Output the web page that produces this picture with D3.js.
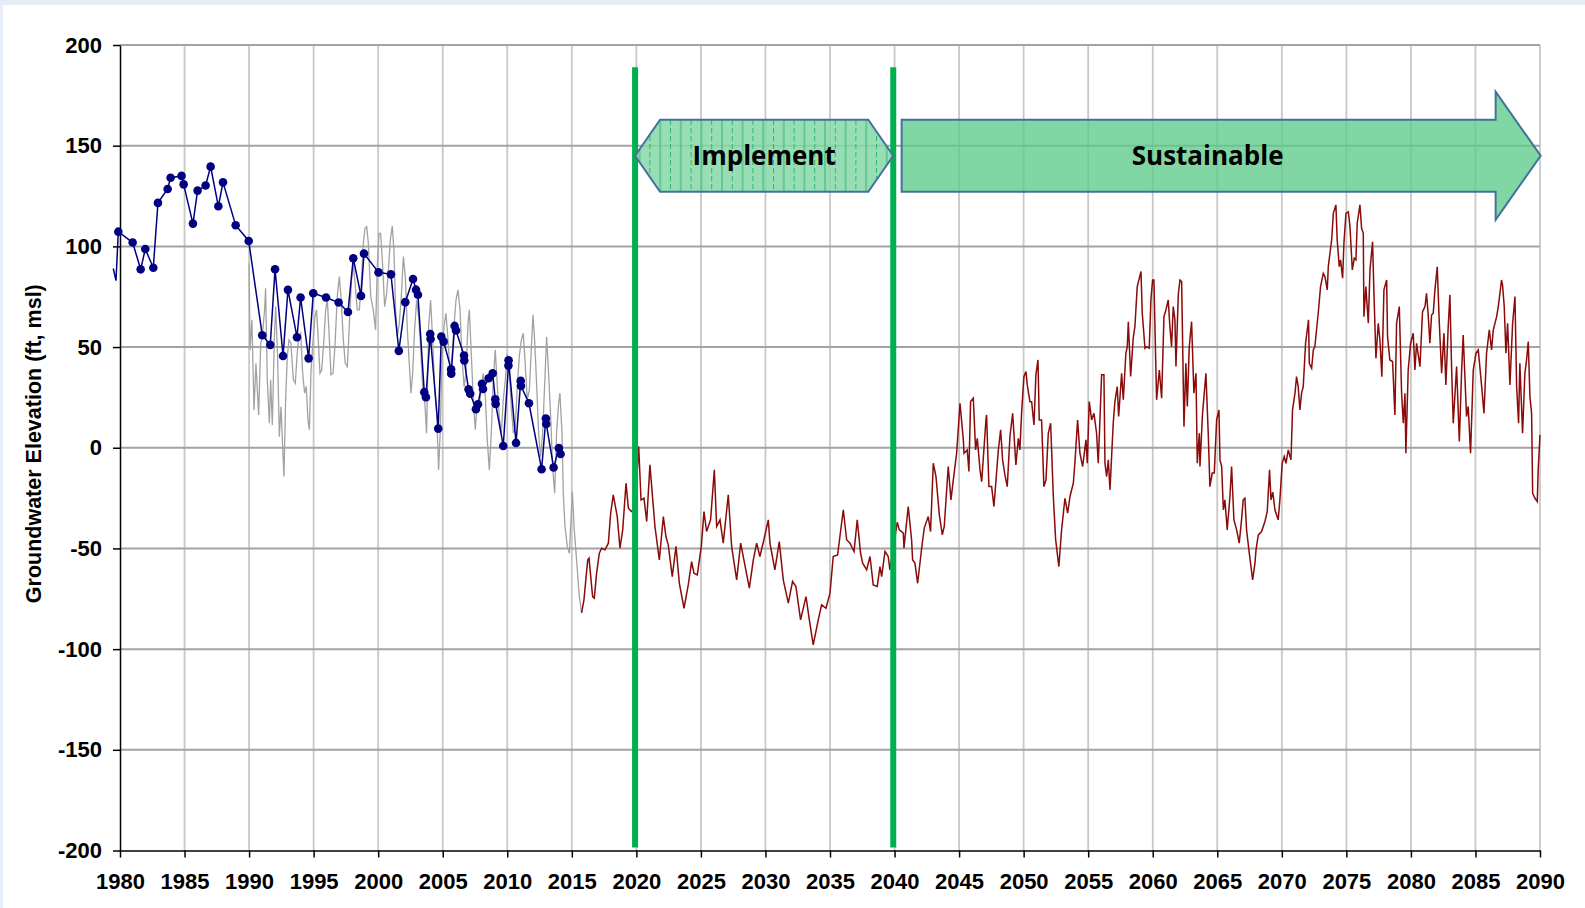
<!DOCTYPE html>
<html lang="en">
<head>
<meta charset="UTF-8">
<title>Groundwater Elevation</title>
<script src="https://d3js.org/d3.v7.min.js"></script>
<style>
    body { margin: 0; background: #e6edf7; }
    svg { display: block; }
    .axis text { font-family: "Liberation Sans", Arial, sans-serif; font-weight: bold; font-size: 22px; fill: #000; }
    .axis line, .axis path { stroke: #000; stroke-width: 1.5; }
</style>
</head>
<body>
<div id="chart"></div>
<script>
    //Data
    const xTickYears = [1980, 1985, 1990, 1995, 2000, 2005, 2010, 2015, 2020, 2025, 2030, 2035, 2040, 2045, 2050, 2055, 2060, 2065, 2070, 2075, 2080, 2085, 2090];
    const yTickValues = [200, 150, 100, 50, 0, -50, -100, -150, -200];
    const yLabel = 'Groundwater Elevation (ft, msl)';

    // measured well levels (line starts a bit before the first marker)
    const measuredLeadIn = [[1979.48, 89], [1979.69, 83]];
    const measured = [[1979.87, 107.3], [1980.98, 101.9], [1981.6, 88.6], [1981.96, 98.7], [1982.58, 89.4], [1982.94, 121.6], [1983.69, 128.5], [1983.92, 134.1], [1984.77, 135], [1984.93, 130.8], [1985.65, 111.3], [1986.01, 127.7], [1986.63, 130.2], [1987.02, 139.6], [1987.62, 119.9], [1987.98, 131.8], [1988.96, 110.5], [1989.97, 102.7], [1991.02, 55.9], [1991.64, 51.1], [1992.01, 88.6], [1992.63, 45.6], [1993.01, 78.4], [1993.71, 54.9], [1993.99, 74.6], [1994.61, 44.4], [1994.97, 76.7], [1995.96, 74.6], [1996.94, 72.1], [1997.66, 67.4], [1998.07, 94.1], [1998.67, 75.4], [1998.9, 96.4], [2000.03, 87.1], [2000.99, 86.1], [2001.6, 48.1], [2002.1, 72.3], [2002.7, 83.8], [2002.93, 78.5], [2003.08, 76], [2003.57, 27.6], [2003.7, 25.1], [2004.03, 56.5], [2004.06, 54], [2004.65, 9.5], [2004.89, 55.2], [2005.07, 52.7], [2005.65, 39], [2005.66, 36.8], [2005.92, 60.5], [2006.03, 58.2], [2006.65, 45.8], [2006.67, 43.3], [2007.0, 29], [2007.13, 26.8], [2007.57, 19.1], [2007.73, 21.6], [2008.04, 31.7], [2008.12, 29.2], [2008.56, 34.5], [2008.87, 37], [2009.07, 24.1], [2009.1, 21.8], [2009.69, 0.9], [2010.09, 40.8], [2010.1, 43.4], [2010.68, 2.4], [2011.04, 33.2], [2011.06, 30.7], [2011.68, 22.1], [2012.66, -10.7], [2012.99, 14.5], [2013.02, 11.8], [2013.59, -9.8], [2014.0, -0.2], [2014.13, -3.1]];

    // historical model (monthly)
    const historical = [[1990.0, 91.6], [1990.07, 48.6], [1990.22, 63.5], [1990.38, 18.8], [1990.53, 41.9], [1990.74, 16.3], [1990.9, 51.9], [1991.02, 55.2], [1991.2, 68.4], [1991.28, 79.2], [1991.41, 33.7], [1991.57, 12.2], [1991.67, 33.7], [1991.8, 11.3], [1991.95, 53.5], [1992.06, 70.1], [1992.21, 45.3], [1992.34, 5.5], [1992.47, 20.4], [1992.6, 0.6], [1992.7, -14.3], [1992.83, 23.8], [1992.96, 45.3], [1993.09, 53.5], [1993.24, 51.9], [1993.43, 33.7], [1993.58, 32], [1993.71, 45.3], [1993.84, 55.2], [1994, 56.9], [1994.15, 37], [1994.3, 27.1], [1994.43, 30.4], [1994.56, 13.8], [1994.67, 8.9], [1994.79, 37], [1994.92, 50.2], [1995.1, 65.1], [1995.23, 68.5], [1995.36, 53.5], [1995.49, 37], [1995.62, 38.6], [1995.78, 51.9], [1995.93, 68.5], [1996.06, 73.4], [1996.21, 55.2], [1996.34, 36.2], [1996.5, 37], [1996.65, 50.2], [1996.83, 75.1], [1996.99, 85], [1997.14, 73.4], [1997.3, 53.5], [1997.45, 41.9], [1997.61, 40.3], [1997.76, 60.2], [1997.92, 81.7], [1998.07, 91.6], [1998.23, 80], [1998.38, 68.5], [1998.54, 68.5], [1998.69, 81.7], [1998.85, 101.5], [1998.98, 109], [1999.11, 109.8], [1999.24, 101.5], [1999.42, 75.1], [1999.62, 68.5], [1999.8, 58.5], [1999.93, 90], [2000.06, 106.5], [2000.19, 106.5], [2000.35, 90], [2000.5, 70.1], [2000.66, 76.7], [2000.81, 90], [2000.94, 103.2], [2001.09, 110.1], [2001.22, 98.2], [2001.35, 68.5], [2001.48, 55.2], [2001.64, 61.8], [2001.79, 75.1], [2001.95, 94.9], [2002.1, 85], [2002.26, 58.5], [2002.41, 41.9], [2002.54, 27.1], [2002.67, 37], [2002.82, 58.5], [2002.98, 73.4], [2003.13, 65.1], [2003.29, 50.2], [2003.44, 30.4], [2003.6, 23.8], [2003.75, 7.2], [2003.91, 60.2], [2004.06, 73.4], [2004.22, 53.5], [2004.37, 30.4], [2004.53, 17.1], [2004.68, -11], [2004.81, 8.9], [2004.94, 43.6], [2005.1, 60.2], [2005.25, 66.8], [2005.41, 53.5], [2005.56, 37], [2005.72, 45.3], [2005.87, 60.2], [2006.03, 73.4], [2006.18, 78.4], [2006.34, 68.5], [2006.49, 45.3], [2006.65, 30.4], [2006.8, 37], [2006.96, 61.8], [2007.06, 68.5], [2007.21, 46.9], [2007.37, 23.8], [2007.52, 8.9], [2007.68, 23.8], [2007.83, 20.5], [2007.99, 30.4], [2008.14, 37], [2008.3, 25.4], [2008.45, 3.9], [2008.61, -11], [2008.76, 7.2], [2008.92, 33.7], [2009.07, 48.6], [2009.23, 30.4], [2009.38, 15.5], [2009.54, 7.2], [2009.69, 23.8], [2009.85, 33.7], [2010, 46.9], [2010.16, 37], [2010.31, 20.5], [2010.47, 7.2], [2010.62, 10.5], [2010.78, 30.4], [2010.93, 45.3], [2011.09, 53.5], [2011.24, 56.9], [2011.4, 40.3], [2011.55, 23.8], [2011.71, 28.7], [2011.86, 48.6], [2011.99, 66], [2012.12, 53.5], [2012.28, 30.4], [2012.43, 7.2], [2012.58, -4.4], [2012.74, 7.2], [2012.89, 30.4], [2013.05, 55], [2013.2, 37], [2013.36, 15.5], [2013.51, -9.3], [2013.67, -22.6], [2013.82, 7.2], [2013.98, 22.1], [2014.08, 27.1], [2014.24, 7.2], [2014.34, -22.6], [2014.47, -39.1], [2014.65, -49], [2014.81, -52.4], [2015.04, -21.7], [2015.19, -40.8], [2015.37, -55.7], [2015.58, -73.9], [2015.76, -82]];

    // projection (monthly)
    const projected = [[2015.76, -82], [2015.94, -75.5], [2016.23, -55.7], [2016.33, -54.8], [2016.61, -73.9], [2016.74, -74.7], [2016.92, -62.3], [2017.13, -52.4], [2017.31, -49.9], [2017.57, -50.7], [2017.83, -47.4], [2018.01, -32.5], [2018.21, -23.4], [2018.52, -34.2], [2018.73, -49.9], [2018.94, -40.8], [2019.2, -17.6], [2019.38, -30], [2019.63, -31.7], [2019.89, -30.8], [2020.18, 0.6], [2020.36, -25.9], [2020.59, -25.1], [2020.8, -36.6], [2021.05, -8.5], [2021.44, -39.1], [2021.78, -55.7], [2022.09, -34.2], [2022.29, -44.1], [2022.47, -48.2], [2022.78, -64], [2023.07, -49], [2023.33, -67.3], [2023.69, -79.7], [2024.02, -68.1], [2024.28, -56.5], [2024.46, -62.3], [2024.72, -63.1], [2025.03, -49], [2025.24, -31.7], [2025.44, -41.6], [2025.75, -35.8], [2026.04, -11], [2026.22, -39.1], [2026.48, -35.8], [2026.73, -47.4], [2027.12, -23.4], [2027.38, -49], [2027.77, -65.6], [2028.08, -47.4], [2028.33, -55.7], [2028.75, -69.7], [2029.06, -55.7], [2029.32, -47.4], [2029.57, -54], [2029.88, -45.7], [2030.22, -35.8], [2030.35, -47.4], [2030.73, -60.6], [2031.07, -46.6], [2031.38, -65.6], [2031.77, -77.2], [2032.1, -66.4], [2032.36, -68.9], [2032.72, -85.5], [2033.14, -73.9], [2033.4, -85.5], [2033.7, -97.9], [2034.09, -85.5], [2034.35, -78], [2034.69, -79.7], [2035, -72.2], [2035.25, -54], [2035.59, -53.2], [2036.03, -30.8], [2036.29, -45.7], [2036.55, -47.4], [2036.86, -51.5], [2037.11, -35.8], [2037.37, -52.4], [2037.53, -57.3], [2037.84, -60.6], [2038.1, -54], [2038.35, -68.1], [2038.66, -68.9], [2038.87, -59], [2039, -64], [2039.26, -51.5], [2039.51, -54], [2039.64, -60.6], [2040.21, -37], [2040.37, -40.8], [2040.68, -42.4], [2040.73, -49.9], [2041.06, -29.2], [2041.32, -45.7], [2041.4, -55.7], [2041.58, -57.3], [2041.79, -67.3], [2042.1, -49.9], [2042.3, -39.9], [2042.61, -34.2], [2042.79, -41.6], [2043, -7.7], [2043.21, -14.3], [2043.47, -33.3], [2043.7, -43.3], [2043.85, -39.1], [2044.16, -9.3], [2044.37, -25.9], [2044.6, -13.5], [2044.81, -2.7], [2045.07, 22.1], [2045.33, 3.9], [2045.38, -2.7], [2045.63, -1.1], [2045.76, -11.8], [2045.89, 22.9], [2046.1, 24.6], [2046.28, -1.1], [2046.41, 4.7], [2046.62, -11], [2046.75, -16.8], [2047.08, 13.8], [2047.13, 16.3], [2047.31, -19.3], [2047.52, -19.3], [2047.7, -29.2], [2048.04, -1.1], [2048.22, 8.9], [2048.37, -6], [2048.55, -13.5], [2048.73, -19.3], [2048.94, 5.6], [2049.15, 17.1], [2049.4, -8.5], [2049.59, 4.7], [2049.71, -1.1], [2049.84, 17.1], [2050.02, 35.3], [2050.18, 37.8], [2050.28, 31.2], [2050.49, 22.9], [2050.62, 22.9], [2050.8, 11.3], [2050.95, 36.2], [2051.11, 43.6], [2051.21, 13.8], [2051.39, 13.8], [2051.57, -19.3], [2051.73, -16], [2051.91, 7.2], [2052.09, 12.2], [2052.3, -24.2], [2052.48, -45.7], [2052.73, -59], [2052.94, -40.8], [2053.2, -25.1], [2053.41, -32.5], [2053.59, -24.2], [2053.85, -17.6], [2053.97, -7.7], [2054.18, 13.8], [2054.36, -2.7], [2054.57, -9.3], [2054.83, 3.9], [2054.93, -7.7], [2055.08, 22.9], [2055.27, 13.8], [2055.45, 17.1], [2055.65, 7.2], [2055.78, -7.7], [2055.91, 13.8], [2056.04, 36.2], [2056.22, 36.2], [2056.3, -7.7], [2056.43, -14.3], [2056.56, -6], [2056.69, -20.9], [2056.94, 12.2], [2057.07, 22.9], [2057.25, 30.4], [2057.36, 15.5], [2057.59, 37], [2057.72, 23.8], [2057.92, 46.9], [2058.03, 50.2], [2058.11, 62.6], [2058.29, 35.4], [2058.49, 54.4], [2058.62, 60.2], [2058.8, 80], [2059.09, 87.5], [2059.19, 66.8], [2059.4, 49.4], [2059.53, 50.2], [2059.73, 49.4], [2059.86, 73.4], [2059.99, 83.3], [2060.09, 83.3], [2060.3, 23.8], [2060.51, 38.6], [2060.69, 24.6], [2060.87, 65.1], [2061.02, 68.4], [2061.2, 73.4], [2061.33, 60.2], [2061.46, 50.2], [2061.59, 70.1], [2061.72, 63.5], [2061.8, 40.3], [2061.98, 75.9], [2062.11, 83.3], [2062.24, 82.5], [2062.42, 10.5], [2062.57, 42], [2062.68, 20.5], [2062.83, 50.2], [2063.01, 62.6], [2063.19, 27.1], [2063.35, 37], [2063.45, -7.7], [2063.61, 7.2], [2063.66, -9.3], [2063.86, 17.1], [2064.12, 37], [2064.3, 7.2], [2064.43, -19.3], [2064.61, -12.6], [2064.77, -12.6], [2064.95, 13.8], [2065.13, 18.8], [2065.21, -6], [2065.34, -9.3], [2065.47, -30.8], [2065.59, -25.9], [2065.77, -40.8], [2065.98, -24.2], [2066.11, -9.3], [2066.29, -35.8], [2066.5, -40.8], [2066.7, -47.4], [2066.88, -35.8], [2067.01, -25.9], [2067.14, -25.1], [2067.27, -40.8], [2067.48, -52.4], [2067.74, -65.6], [2067.92, -57.3], [2068.0, -50.7], [2068.18, -43.3], [2068.43, -41.6], [2068.69, -36.6], [2068.87, -31.7], [2069.05, -11], [2069.16, -25.9], [2069.3, -22], [2069.47, -30.9], [2069.72, -35.8], [2069.85, -25.9], [2070.03, -7.7], [2070.19, -4.4], [2070.32, -7.7], [2070.5, -1.1], [2070.71, -6], [2070.83, 18.8], [2071.02, 27.1], [2071.14, 35.3], [2071.27, 30.4], [2071.4, 18.8], [2071.53, 27.1], [2071.66, 30.4], [2071.84, 51.9], [2072.07, 63.5], [2072.13, 41.9], [2072.31, 39.5], [2072.44, 48.6], [2072.56, 50.2], [2072.82, 66.8], [2073, 80], [2073.21, 86.6], [2073.34, 85], [2073.52, 78.4], [2073.6, 89.9], [2073.73, 96.6], [2073.86, 103.2], [2073.99, 116.4], [2074.19, 120.6], [2074.29, 103.2], [2074.45, 89.9], [2074.55, 93.3], [2074.71, 84.2], [2074.81, 101.5], [2074.97, 116.4], [2075.15, 117.2], [2075.28, 109.8], [2075.46, 88.3], [2075.61, 94.1], [2075.74, 93.3], [2075.84, 111.5], [2076.05, 120.6], [2076.18, 109], [2076.31, 106.5], [2076.36, 65.1], [2076.51, 80], [2076.7, 61.8], [2076.83, 88.3], [2077.03, 102.3], [2077.13, 78.4], [2077.29, 44.4], [2077.47, 61.8], [2077.6, 53.5], [2077.75, 35.3], [2077.91, 78.4], [2078.12, 83.3], [2078.19, 55.2], [2078.37, 43.6], [2078.58, 42.8], [2078.76, 16.3], [2078.89, 61.8], [2079.1, 70.1], [2079.28, 27.1], [2079.41, 12.2], [2079.54, 27.1], [2079.61, -2.7], [2079.79, 38.6], [2079.98, 51.9], [2080.18, 56.9], [2080.31, 38.6], [2080.44, 51.9], [2080.7, 40.3], [2080.9, 67.6], [2081.09, 70.1], [2081.21, 76.7], [2081.34, 65.9], [2081.47, 51.9], [2081.6, 65.9], [2081.73, 66.8], [2081.86, 78.4], [2082.04, 89.9], [2082.2, 61.8], [2082.38, 37], [2082.56, 56.9], [2082.71, 31.2], [2082.89, 60.2], [2083.02, 75.9], [2083.15, 40.3], [2083.28, 12.2], [2083.54, 40.3], [2083.75, 3.1], [2083.93, 38.6], [2084.05, 56], [2084.31, 15.5], [2084.44, 20.5], [2084.62, -2.7], [2084.83, 38.6], [2085.04, 46.9], [2085.22, 48.6], [2085.47, 31.2], [2085.66, 17.1], [2085.86, 46.9], [2086.07, 58.5], [2086.25, 48.6], [2086.38, 58.5], [2086.64, 65.1], [2086.77, 70.1], [2087.02, 83.3], [2087.1, 80.8], [2087.23, 70.1], [2087.36, 46.9], [2087.49, 61.8], [2087.67, 31.2], [2087.88, 61.8], [2088.06, 75.1], [2088.19, 30.4], [2088.34, 12.2], [2088.44, 42], [2088.65, 7.2], [2088.83, 37], [2088.96, 43.6], [2089.09, 52.7], [2089.22, 25.4], [2089.35, 17.1], [2089.43, -22.6], [2089.61, -25.1], [2089.79, -26.7], [2089.86, -11], [2090.0, 6.4]];

    // phases (year spans) and their labels
    const phaseLabels = ['Implement', 'Sustainable'];
    const phaseStarts = [2019.9, 2040.55];
    const phaseEnds = [2039.9, 2090.05];
    const milestoneYears = [2019.9, 2039.9];

    //Variable
    const width = 1585;
    const height = 908;
    const plotLeft = 120;
    const plotRight = 1540;
    const plotTop = 45;
    const plotBottom = 850.5;
    const xScale = d3.scaleLinear().domain([1980, 2090]).range([plotLeft, plotRight]);
    const yScale = d3.scaleLinear().domain([-200, 200]).range([plotBottom, plotTop]);

    //Chart
    const svg = d3.select('#chart')
        .append('svg')
        .attr('width', width)
        .attr('height', height);

    svg.append('rect')
        .attr('x', 3).attr('y', 5)
        .attr('width', width - 3).attr('height', height - 5)
        .attr('fill', '#fff');

    //-patterns for the phase shapes
    const defs = svg.append('defs');
    const stripes = defs.append('pattern')
        .attr('id', 'stripes')
        .attr('patternUnits', 'userSpaceOnUse')
        .attr('width', 20.6).attr('height', 8);
    stripes.append('rect').attr('width', 20.6).attr('height', 8).attr('fill', '#86d8a8').attr('fill-opacity', 0.85);
    stripes.append('line').attr('x1', 1).attr('x2', 1).attr('y1', 0).attr('y2', 8)
        .attr('stroke', '#2fb56c').attr('stroke-width', 1);
    stripes.append('line').attr('x1', 11.3).attr('x2', 11.3).attr('y1', 0).attr('y2', 5)
        .attr('stroke', '#2fb56c').attr('stroke-width', 1);

    //-grid
    svg.append('g')
        .selectAll('line')
        .data(xTickYears.filter(d => d !== 1980))
        .enter()
        .append('line')
        .attr('x1', d => xScale(d)).attr('x2', d => xScale(d))
        .attr('y1', plotTop).attr('y2', plotBottom)
        .attr('stroke', '#c8c8c8')
        .attr('stroke-width', 1.8);
    svg.append('g')
        .selectAll('line')
        .data(yTickValues.filter(d => d !== -200))
        .enter()
        .append('line')
        .attr('x1', plotLeft).attr('x2', plotRight)
        .attr('y1', d => yScale(d)).attr('y2', d => yScale(d))
        .attr('stroke', '#a3a3a3')
        .attr('stroke-width', 2);

    //-GY
    const yAxis = d3.axisLeft(yScale).tickValues(yTickValues).tickFormat(d => String(d))
        .tickSize(7).tickPadding(11).tickSizeOuter(0);
    svg.append('g')
        .attr('class', 'axis')
        .attr('transform', `translate(${plotLeft},0)`)
        .call(yAxis);
    //-GX
    const xAxis = d3.axisBottom(xScale).tickValues(xTickYears).tickFormat(d => String(d))
        .tickSize(7).tickPadding(16).tickSizeOuter(0);
    svg.append('g')
        .attr('class', 'axis')
        .attr('transform', `translate(0,${plotBottom})`)
        .call(xAxis);

    svg.append('text')
        .attr('transform', `translate(41,${yScale(2)}) rotate(-90)`)
        .attr('text-anchor', 'middle')
        .style('font-family', '"Liberation Sans", Arial, sans-serif')
        .style('font-weight', 'bold')
        .style('font-size', '21.5px')
        .text(yLabel);

    //-Lines
    const line = d3.line().x(d => xScale(d[0])).y(d => yScale(d[1]));
    svg.append('path')
        .datum(historical)
        .attr('d', line)
        .attr('fill', 'none')
        .attr('stroke', '#a2a2a2')
        .attr('stroke-width', 1.3);
    svg.append('path')
        .datum(projected)
        .attr('d', line)
        .attr('fill', 'none')
        .attr('stroke', '#8b0a0a')
        .attr('stroke-width', 1.5);
    svg.append('path')
        .datum(measuredLeadIn.concat(measured))
        .attr('d', line)
        .attr('fill', 'none')
        .attr('stroke', '#000080')
        .attr('stroke-width', 1.5);
    svg.append('g')
        .selectAll('circle')
        .data(measured)
        .enter()
        .append('circle')
        .attr('cx', d => xScale(d[0]))
        .attr('cy', d => yScale(d[1]))
        .attr('r', 4.3)
        .attr('fill', '#000080');

    //-Milestones
    svg.append('g')
        .selectAll('line')
        .data(milestoneYears)
        .enter()
        .append('line')
        .attr('x1', d => xScale(d)).attr('x2', d => xScale(d))
        .attr('y1', yScale(189)).attr('y2', yScale(-198.5))
        .attr('stroke', '#00b050')
        .attr('stroke-width', 6);

    //-Phase shapes
    const mid = 145;
    const yTop = yScale(mid + 17.9), yBot = yScale(mid - 17.9), yMid = yScale(mid);
    const hx0 = xScale(phaseStarts[0]), hx1 = xScale(phaseEnds[0]);
    svg.append('path')
        .attr('d', `M${hx0},${yMid}L${hx0 + 25},${yTop}L${hx1 - 25},${yTop}L${hx1},${yMid}L${hx1 - 25},${yBot}L${hx0 + 25},${yBot}Z`)
        .attr('fill', 'url(#stripes)')
        .attr('stroke', '#41719c')
        .attr('stroke-width', 2);

    const ax0 = xScale(phaseStarts[1]), ax1 = xScale(phaseEnds[1]);
    const headBase = ax1 - 45;
    const hTop = yScale(mid + 31.8), hBot = yScale(mid - 31.8);
    svg.append('path')
        .attr('d', `M${ax0},${yTop}L${headBase},${yTop}L${headBase},${hTop}L${ax1},${yMid}L${headBase},${hBot}L${headBase},${yBot}L${ax0},${yBot}Z`)
        .attr('fill', '#5ccc8a')
        .attr('fill-opacity', 0.78)
        .attr('stroke', '#41719c')
        .attr('stroke-width', 2);

    const labelX = [(hx0 + hx1) / 2, (ax0 + headBase) / 2 + 9];
    svg.append('g')
        .selectAll('text')
        .data(phaseLabels)
        .enter()
        .append('text')
        .attr('x', (d, i) => labelX[i])
        .attr('y', yMid)
        .attr('dy', '0.37em')
        .attr('text-anchor', 'middle')
        .style('font-family', '"Open Sans", sans-serif')
        .style('font-weight', 'bold')
        .style('font-size', '26px')
        .attr('fill', '#000')
        .text(d => d);
</script>
</body>
</html>
